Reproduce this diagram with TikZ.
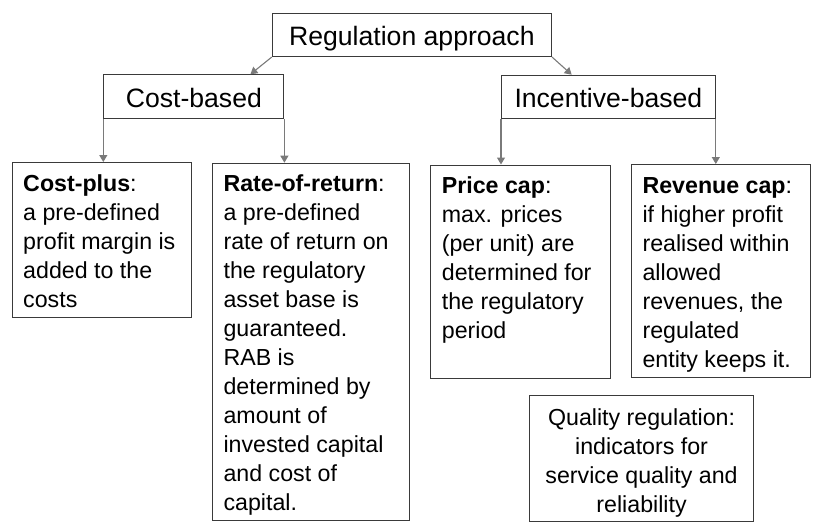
\documentclass[tikz,border=0pt]{standalone}
\usepackage{fontspec}
\setmainfont{Liberation Sans}
\usetikzlibrary{arrows.meta}
\definecolor{boxline}{HTML}{3A3A3A}
\definecolor{arrline}{HTML}{7A7A7A}
\newcommand\bxt[4]{\parbox[t][#2][t]{#1}{#3\vspace*{8.4pt}\strut #4}}
\begin{document}
\begin{tikzpicture}[x=1pt,y=-1pt,
  hdr/.style={draw=boxline, line width=1.1pt, anchor=north west, inner sep=0pt, align=center,
    font=\fontsize{26.6}{30}\selectfont, text height=21.6pt, text depth=0pt},
  bodybox/.style={draw=boxline, line width=1.1pt, anchor=north west, inner xsep=11pt, inner ysep=0pt,
    font=\fontsize{23.2}{29}\selectfont},
  conn/.style={draw=arrline, line width=1.1pt, -{Triangle[length=7pt,width=8pt]}}]
\useasboundingbox (0,0) rectangle (826,531);
\node[hdr, minimum width=279.3pt, minimum height=43.3pt] (reg) at (271.7,12.7) {Regulation approach};
\node[hdr, minimum width=180pt, minimum height=43.4pt] (cb) at (103.3,74.3) {Cost-based};
\node[hdr, minimum width=213.7pt, minimum height=43pt] (inc) at (501,74.7) {Incentive-based};
\node[bodybox] (cp) at (11.7,162) {\bxt{157.3pt}{155pt}{\raggedright}{\textbf{Cost-plus}:\\ a pre-defined\\ profit margin is\\ added to the\\ costs}};
\node[bodybox] (rr) at (212,162.7) {\bxt{175.3pt}{357pt}{\raggedright}{\textbf{Rate-of-return}:\\ a pre-defined\\ rate of return on\\ the regulatory\\ asset base is\\ guaranteed.\\ RAB is\\ determined by\\ amount of\\ invested capital\\ and cost of\\ capital.}};
\node[bodybox] (pc) at (430.3,164.5) {\bxt{157.7pt}{213pt}{\raggedright}{\textbf{Price cap}:\\ max. prices\\ (per unit) are\\ determined for\\ the regulatory\\ period}};
\node[bodybox] (rc) at (631,164) {\bxt{157.3pt}{213pt}{\raggedright}{\textbf{Revenue cap}:\\ if higher profit\\ realised within\\ allowed\\ revenues, the\\ regulated\\ entity keeps it.}};
\node[bodybox] (qr) at (529,395.3) {\parbox[t][125.7pt][t]{202pt}{\centering\vspace*{9.7pt}\strut Quality regulation:\\ indicators for\\ service quality and\\ reliability}};
\draw[conn] (reg.south west) -- ([xshift=-34pt]cb.north east);
\draw[conn] (reg.south east) -- ([xshift=70.7pt]inc.north west);
\draw[conn] (cb.south west) -- (cb.south west |- cp.north);
\draw[conn] (cb.south east) -- (cb.south east |- rr.north);
\draw[conn] (inc.south west) -- (inc.south west |- pc.north);
\draw[conn] (inc.south east) -- (inc.south east |- rc.north);
\end{tikzpicture}
\end{document}
